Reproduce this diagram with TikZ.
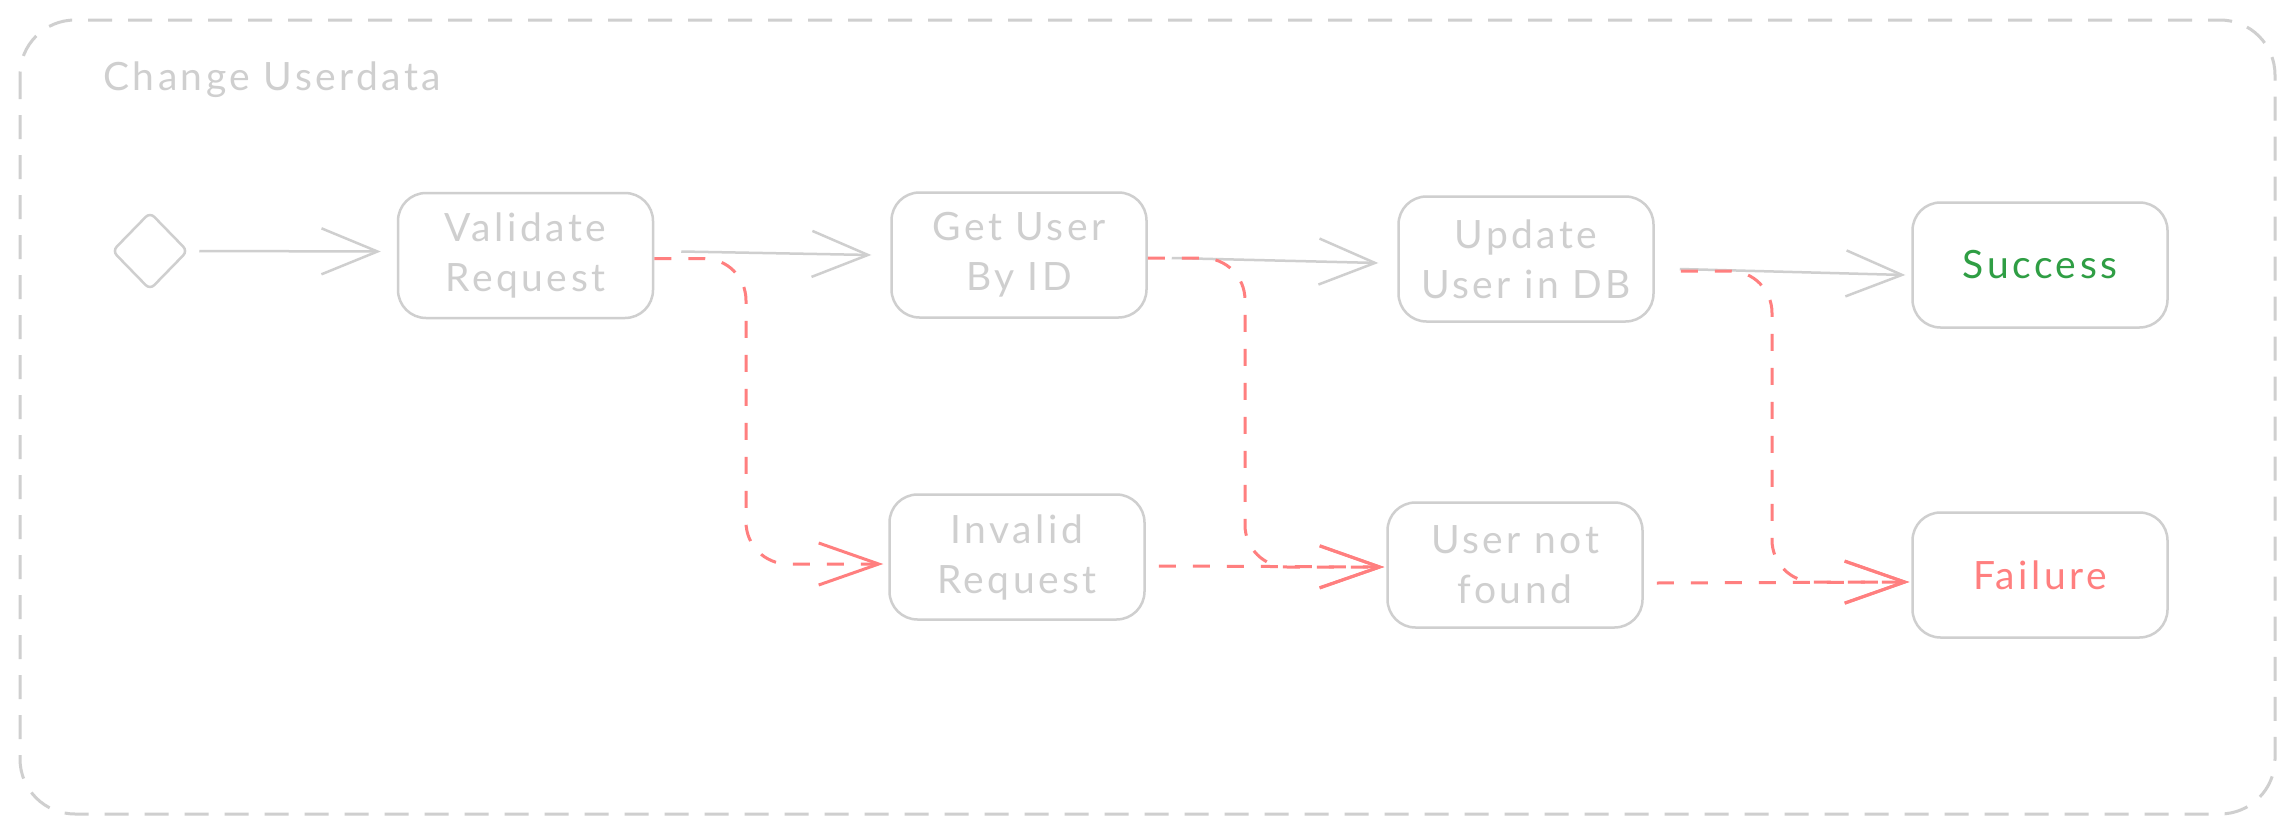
\documentclass[tikz,border=0pt]{standalone}
\usepackage{fontspec}
\setmainfont{Lato}[LetterSpace=9]
\usetikzlibrary{arrows.meta,shapes.geometric}
\definecolor{lg}{HTML}{CFCFCF}
\definecolor{rd}{HTML}{FF7F7F}
\definecolor{gr}{HTML}{2F9E44}
\begin{document}
\begin{tikzpicture}[x=1pt,y=-1pt,
  box/.style={draw=lg, line width=2.5pt, rounded corners=28pt, minimum width=255pt, minimum height=125pt, inner sep=0pt, align=center, text=lg, font=\fontsize{39}{50}\selectfont},
  flow/.style={draw=lg, line width=2.5pt, -{Straight Barb[length=56pt,width=46pt]}},
  fail/.style={draw=rd, line width=3pt, dash pattern=on 17pt off 17pt, rounded corners=42pt, -{Straight Barb[length=60pt,width=42pt]}},
  frame/.style={draw=lg, line width=3pt, dash pattern=on 24pt off 16pt, rounded corners=55pt}
]
\useasboundingbox (0,0) rectangle (2295,835);
\fill[white] (0,0) rectangle (2295,835);
\draw[frame] (20,20) rectangle (2275,814);
\node[anchor=base west, text=lg, font=\fontsize{39}{44}\selectfont, inner sep=0pt] (title) at (103,90) {Change Userdata};

\node[draw=lg, line width=2.5pt, diamond, minimum width=76pt, minimum height=78pt, inner sep=0pt, rounded corners=6pt] (dm) at (150,251) {};
\node[box] (vr) at (525.5,255.5) {Validate\\Request};
\node[box] (gu) at (1019,255) {Get User\\By ID};
\node[box] (ud) at (1526,259) {Update\\User in DB};
\node[box, text=gr] (sc) at (2040,265) {Success};
\node[box] (ir) at (1017,557) {Invalid\\Request};
\node[box] (un) at (1515,565) {User not\\found};
\node[box, text=rd] (fl) at (2040,575) {Failure};

\draw[flow] ([xshift=10pt]dm.east) -- ([xshift=-16pt,yshift=4pt]vr.west);
\draw[flow] ([xshift=27pt,yshift=4pt]vr.east) -- ([xshift=-19pt]gu.west);
\draw[flow] ([xshift=24pt,yshift=-3pt]gu.east) -- ([xshift=-19pt,yshift=-4pt]ud.west);
\draw[flow] ([xshift=25pt,yshift=-10pt]ud.east) -- ([xshift=-6pt,yshift=-10pt]sc.west);

\coordinate (c1) at (746,0);
\coordinate (c2) at (1245,0);
\coordinate (c3) at (1772,0);
\draw[fail] ([yshift=-3pt]vr.east) -| ([yshift=-7pt]c1 |- ir.west) -- ([xshift=-5pt,yshift=-7pt]ir.west);
\draw[fail] ([yshift=-3pt]gu.east) -| ([yshift=-2pt]c2 |- un.west) -- ([xshift=-2pt,yshift=-2pt]un.west);
\draw[fail] ([xshift=13pt,yshift=-9pt]ir.east) -- ([xshift=-2pt,yshift=-2pt]un.west);
\draw[fail] ([xshift=26pt,yshift=-12pt]ud.east) -| ([yshift=-7pt]c3 |- fl.west) -- ([xshift=-2pt,yshift=-7pt]fl.west);
\draw[fail] ([xshift=13pt,yshift=-18pt]un.east) -- ([xshift=-2pt,yshift=-7pt]fl.west);
\end{tikzpicture}
\end{document}
